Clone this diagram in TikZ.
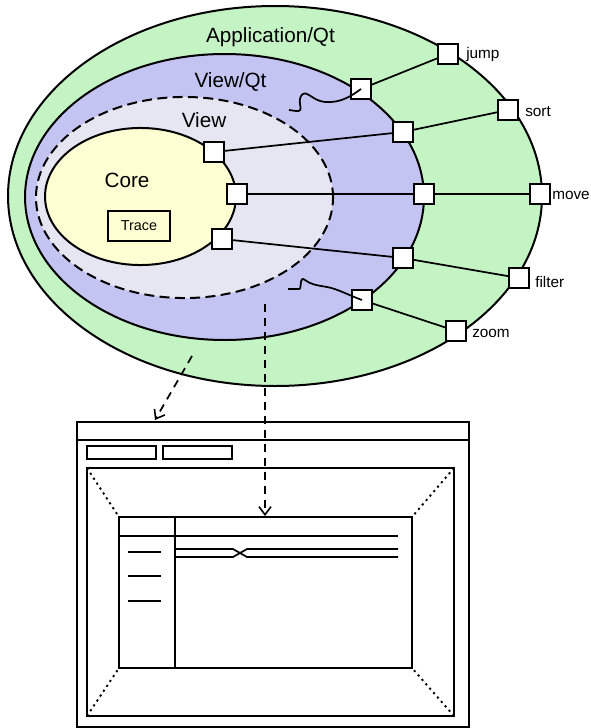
\documentclass[tikz,border=0pt]{standalone}
\usepackage{fontspec}
\setmainfont{Liberation Sans}
\usetikzlibrary{arrows.meta}
\definecolor{appgreen}{RGB}{196,244,196}
\definecolor{viewqt}{RGB}{196,196,242}
\definecolor{viewc}{RGB}{230,230,242}
\definecolor{corec}{RGB}{255,255,212}
\begin{document}
\begin{tikzpicture}[x=0.75pt,y=-0.75pt,
  ring/.style={line width=1.5pt},
  port/.style={draw,fill=white,line width=1.4pt,minimum size=14.5pt,inner sep=0pt},
  link/.style={line width=1.3pt},
  biglab/.style={font=\fontsize{15.5pt}{18pt}\selectfont,inner sep=0pt,anchor=base},
  smalllab/.style={font=\fontsize{11.5pt}{14pt}\selectfont,inner sep=0pt,anchor=base west},
  win/.style={line width=1.5pt},
  thinw/.style={line width=1.3pt},
  dots/.style={line width=1.4pt,dash pattern=on 1.6pt off 2.8pt},
  darrow/.style={line width=1.3pt,dash pattern=on 6pt off 4.5pt,-{Straight Barb[length=6pt,width=9pt,line width=1.2pt]}}
]
\useasboundingbox (0,0) rectangle (591,728);
% ellipses
\draw[ring,fill=appgreen] (275,196) ellipse [x radius=200.25pt, y radius=142.5pt];
\draw[ring,fill=viewqt] (224.5,197) ellipse [x radius=149.6pt, y radius=107.25pt];
\draw[ring,fill=viewc,dash pattern=on 7.5pt off 4pt] (184.5,197.5) ellipse [x radius=111.4pt, y radius=75.4pt];
\draw[ring,fill=corec] (140.5,196.5) ellipse [x radius=71.6pt, y radius=51.4pt];
% labels
\node[biglab] (lapp) at (270.5,42) {Application/Qt};
\node[biglab] (lvqt) at (230.5,87) {View/Qt};
\node[biglab] (lview) at (204,127) {View};
\node[biglab] (lcore) at (127,187) {Core};
\node[draw,line width=1.4pt,minimum width=46.5pt,minimum height=22.5pt,inner sep=0pt,font=\fontsize{10.8pt}{13pt}\selectfont] (trace) at (139,226) {Trace};
% ports
\node[port] (c1) at (214,152) {};
\node[port] (c2) at (237,194) {};
\node[port] (c3) at (222,239) {};
\node[port] (q1) at (361,89) {};
\node[port] (q2) at (403,132) {};
\node[port] (q3) at (424,194) {};
\node[port] (q4) at (403,258) {};
\node[port] (q5) at (362,300) {};
\node[port] (jump) at (448,54) {};
\node[port] (sort) at (508,110) {};
\node[port] (move) at (540,194) {};
\node[port] (filter) at (519,278) {};
\node[port] (zoom) at (456,331) {};
% connectors
\draw[link] (c1) -- (q2) (q2) -- (sort);
\draw[link] (c2) -- (q3) (q3) -- (move);
\draw[link] (c3) -- (q4) (q4) -- (filter);
\draw[link] (q1) -- (jump);
\draw[link] (q5) -- (zoom);
% port labels
\node[smalllab] (tjump) at (466,58) {jump};
\node[smalllab] (tsort) at (525,116) {sort};
\node[smalllab] (tmove) at (552,199) {move};
\node[smalllab] (tfilter) at (535,287) {filter};
\node[smalllab] (tzoom) at (472,337) {zoom};
% squiggles
\coordinate (w1) at (289,110);
\coordinate (w2) at (288,289);
\draw[link] (q1.center) .. controls (350,97) and (340,103) .. (325,102)
  .. controls (312,101) and (306,88) .. (301,96)
  .. controls (297,103) and (305,112) .. (296,111) -- (w1);
\draw[link] (q5.center) .. controls (348,295) and (338,289) .. (327,287)
  .. controls (315,285) and (310,284) .. (305,280)
  .. controls (299,275) and (302,290) .. (299,289) -- (w2);
% window
\draw[win] (77,422) rectangle (469,727);
\draw[win] (77,440) -- (469,440);
\node[draw,line width=1.4pt,minimum width=51.75pt,minimum height=9.75pt,inner sep=0pt] (tb1) at (121.5,452.5) {};
\node[draw,line width=1.4pt,minimum width=51.75pt,minimum height=9.75pt,inner sep=0pt] (tb2) at (197.5,452.5) {};
\coordinate (a1) at (87,468);
\coordinate (a2) at (454,468);
\coordinate (a3) at (454,716);
\coordinate (a4) at (87,716);
\draw[win] (a1) rectangle (a3);
\coordinate (b1) at (119,517);
\coordinate (b2) at (412,517);
\coordinate (b3) at (412,668);
\coordinate (b4) at (119,668);
\draw[win] (b1) rectangle (b3);
\draw[dots] (a1) -- (b1);
\draw[dots] (a2) -- (b2);
\draw[dots] (a3) -- (b3);
\draw[dots] (a4) -- (b4);
\draw[win] (175,517) -- (175,668);
\draw[thinw] (119,536) -- (398,536);
\draw[thinw] (128,552) -- (161,552);
\draw[thinw] (128,576) -- (161,576);
\draw[thinw] (128,601) -- (161,601);
\draw[thinw] (175,549) -- (233,549) -- (247,557) -- (398,557);
\draw[thinw] (175,557) -- (233,557) -- (247,549) -- (398,549);
% dashed arrows
\coordinate (s1) at (192,356);
\coordinate (e1) at (155,420);
\coordinate (s2) at (265,304);
\coordinate (e2) at (265,516);
\draw[darrow] (s1) -- (e1);
\draw[darrow] (s2) -- (e2);
\end{tikzpicture}
\end{document}
